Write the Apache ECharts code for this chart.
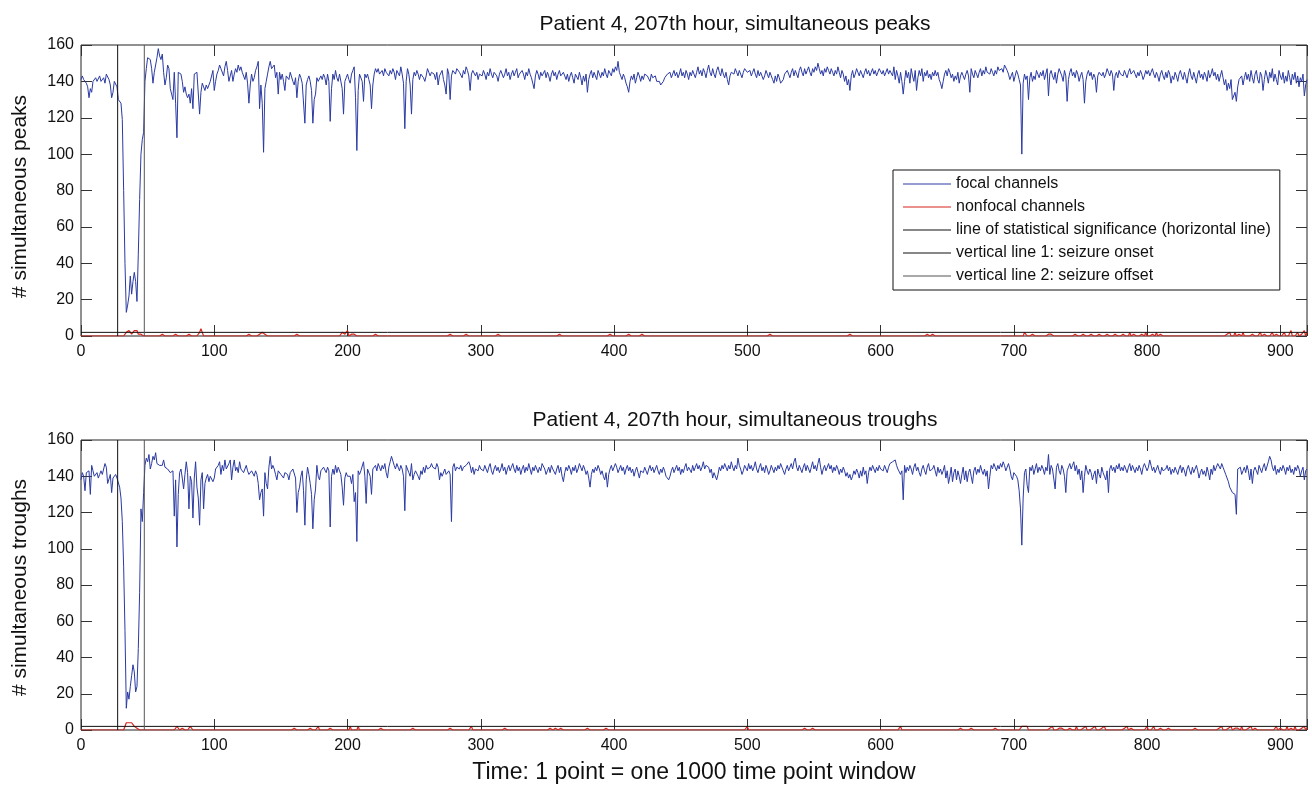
<!DOCTYPE html>
<html><head><meta charset="utf-8">
<script src="https://cdn.jsdelivr.net/npm/echarts@6.0.0/dist/echarts.min.js"></script>
<style>html,body{margin:0;padding:0;background:#fff;}#chart{width:1312px;height:785px;}</style>
</head><body><div id="chart"></div>
<script>
// ---------- data ----------
const xMax = 920;
const yTicks = [0,20,40,60,80,100,120,140,160];
const xTickLabels = [0,100,200,300,400,500,600,700,800,900];
const onsetX = 27.5;
const offsetX = 47.5;
const significance = 2;

// focal channels, simultaneous peaks, one value per window (0..920)
const focalPeaks = [
141,143,141,140,139,137,131,136,134,140,141,142,140,141,143,140,141,142,139,144,145,141,138,131,134,140,141,137,
130,129,128,119,80,40,13,17,22,33,23,30,35,30,19,45,75,100,108,112,140,
147,153,154,152,147,139,145,149,153,158,154,152,155,145,138,142,149,147,136,133,130,145,128,109,145,146,144,140,134,137,133,131,
133,128,136,125,144,144,145,144,122,134,139,137,135,138,136,138,140,141,146,135,
140,144,146,149,147,146,143,148,151,146,140,143,146,140,144,147,145,149,146,148,145,144,141,145,139,128,138,144,140,142,146,148,151,125,138,128,101,136,140,144,
148,151,147,146,149,142,145,133,145,141,144,140,135,143,144,141,145,144,140,138,142,131,140,144,142,139,140,117,138,141,143,140,135,117,130,133,142,140,140,143,
141,144,142,138,144,140,118,136,144,141,146,142,140,144,143,136,122,140,142,144,141,139,144,146,148,131,102,135,144,143,140,129,144,142,144,141,138,125,138,144,
147,145,147,144,145,146,143,147,145,145,143,146,144,147,145,141,146,145,143,148,144,139,114,140,147,144,138,122,141,145,143,146,144,141,144,145,142,140,143,147,
145,143,145,146,144,141,145,138,143,144,146,141,138,133,147,144,130,143,146,146,144,147,147,145,144,142,146,144,148,146,143,135,144,146,145,143,145,141,144,145,
143,146,144,141,145,143,147,144,142,145,146,143,140,144,146,145,142,144,147,143,
145,141,144,146,143,145,147,142,144,143,146,144,141,145,143,147,144,142,139,136,
143,146,144,141,145,143,144,146,142,145,143,140,144,146,143,145,141,144,146,143,
142,145,143,141,144,140,143,145,142,139,144,143,141,145,142,138,143,140,144,134,
141,144,146,142,145,143,141,146,144,142,145,143,147,144,142,146,145,143,147,145,
148,146,151,145,143,141,144,142,139,137,134,140,143,141,144,139,142,145,143,140,
143,141,144,145,143,142,140,144,142,141,143,140,139,140,138,138,140,142,141,144,
143,145,142,144,146,143,145,142,144,147,143,145,142,146,144,141,145,143,146,144,
142,145,148,144,146,143,147,145,142,146,149,145,143,147,144,142,146,148,145,143,
147,144,142,145,141,138,143,145,146,144,147,145,143,146,144,142,145,147,148,145,
144,146,143,145,147,144,142,146,143,145,144,141,143,146,144,142,145,143,141,139,
143,140,144,142,139,138,141,144,143,146,144,142,145,147,143,146,144,142,146,148,
145,143,147,144,146,148,145,143,147,145,148,146,150,147,144,146,143,147,145,148,
146,144,147,145,143,146,144,148,145,142,146,144,140,143,138,141,135,143,146,142,
144,147,145,143,146,144,142,145,147,144,146,143,145,147,144,146,143,145,147,146,
144,146,143,145,147,144,146,145,143,148,141,146,143,139,145,140,133,140,146,142,
145,139,147,143,140,146,135,142,146,143,147,140,145,143,146,142,144,141,145,143,
146,143,145,141,139,136,140,144,146,143,147,145,142,144,140,143,141,145,139,143,
145,143,141,144,146,143,134,147,144,142,146,144,142,145,147,143,146,144,148,145,
146,144,147,145,143,146,144,148,146,145,147,145,149,150,146,144,141,143,145,140,
143,146,144,141,138,100,139,144,141,143,130,142,145,140,143,141,146,144,142,145,
143,146,141,144,147,132,144,146,143,141,145,139,144,147,148,143,140,146,143,129,
141,145,147,143,145,142,146,144,140,143,145,141,128,140,144,146,143,145,141,144,
142,134,143,145,146,143,145,142,144,147,145,143,146,144,135,143,145,142,146,144,
145,143,146,144,142,145,147,144,143,146,144,142,145,143,146,144,141,143,146,144,
146,143,145,147,144,142,145,143,140,144,146,143,141,145,142,146,144,139,143,141,
145,143,140,144,146,143,141,145,142,139,144,147,143,141,145,142,139,144,146,142,
144,141,145,143,140,146,142,144,147,143,145,141,144,140,143,146,142,138,141,135,
139,136,141,130,129,134,129,137,141,140,143,138,142,145,141,144,140,146,142,139,
144,146,141,139,145,143,135,141,146,143,139,145,142,147,140,144,141,138,146,143,
141,145,139,143,140,146,142,138,144,141,145,139,143,137,142,140,144,132,138,141
];

// focal channels, simultaneous troughs
const focalTroughs = [
138,142,140,132,142,141,143,130,146,143,140,141,142,139,141,143,141,144,147,145,136,137,141,131,139,140,141,139,
138,134,128,115,90,55,12,21,17,24,30,36,32,21,24,45,76,122,115,131,146,
150,148,152,144,147,151,149,153,147,148,146,147,146,149,145,146,144,143,142,141,143,118,138,101,130,142,144,139,133,141,148,142,
122,140,137,117,139,148,134,128,113,138,142,122,136,139,141,137,140,140,137,139,
144,143,146,148,141,146,143,149,144,143,147,149,138,145,149,143,145,142,148,144,145,142,144,146,143,141,140,143,142,140,143,141,136,127,131,133,118,142,136,133,
145,151,144,146,144,141,138,143,143,141,140,139,142,143,141,138,142,142,144,143,139,120,131,134,140,143,132,113,138,145,141,136,130,111,127,133,146,140,138,143,
144,145,146,142,145,143,112,140,144,141,146,142,145,144,141,134,124,139,142,140,141,140,136,141,126,131,104,143,141,143,142,148,140,125,144,145,140,130,144,145,
146,143,147,145,143,146,144,147,142,139,145,148,151,152,146,144,147,145,143,146,144,140,121,146,144,142,140,147,138,141,143,142,140,138,143,141,145,142,146,144,
143,145,147,145,146,144,147,145,138,142,140,141,144,141,140,143,141,115,145,147,143,145,146,144,146,143,145,144,146,147,148,146,142,145,141,144,145,143,146,144,
145,143,146,144,142,145,147,143,141,144,146,143,145,142,144,147,143,145,141,144,
146,143,145,147,144,142,146,143,145,141,144,146,142,145,143,147,144,141,145,143,
146,144,142,145,143,147,148,144,141,143,145,142,146,144,143,141,144,146,142,145,
140,137,142,145,143,146,144,141,145,143,146,142,144,147,145,143,146,144,141,143,
139,134,141,144,142,145,143,146,144,141,143,140,138,142,134,141,144,146,143,145,
147,145,142,144,146,143,145,141,144,146,143,145,142,144,140,143,145,142,139,143,
144,142,145,143,141,144,146,143,145,142,144,146,143,141,144,142,145,143,140,141,
138,140,143,145,142,144,146,143,145,141,144,142,145,147,143,145,144,142,146,143,
145,147,144,146,143,145,148,144,146,147,145,142,144,139,142,143,138,141,145,143,
146,144,147,145,143,146,144,148,145,143,146,144,150,146,144,141,143,146,145,143,
147,144,146,143,145,148,144,142,145,147,143,145,142,146,144,141,143,146,144,142,
145,143,146,144,147,145,143,141,144,146,143,145,147,144,148,150,145,143,146,144,
142,145,147,143,146,144,142,145,148,144,146,143,147,150,145,141,144,146,143,145,
147,144,146,142,145,143,146,144,141,144,142,145,143,140,142,139,141,138,140,143,
141,144,142,139,143,140,145,141,143,136,142,145,143,146,144,142,145,143,146,144,
145,143,146,144,142,145,147,146,148,147,149,146,144,145,141,143,127,146,142,145,
143,146,144,141,145,147,143,145,142,140,144,146,143,141,145,147,143,142,144,146,
143,140,145,142,144,141,143,146,139,143,136,140,145,137,142,144,138,143,140,136,
141,145,138,143,137,142,144,140,136,143,145,141,144,142,146,143,141,144,140,143,
133,140,146,144,147,145,143,146,144,147,145,148,146,143,145,147,144,140,138,142,
143,140,138,132,122,102,128,142,144,135,131,145,143,146,141,144,147,142,145,143,
146,144,141,145,143,152,141,146,144,143,133,145,147,143,141,146,144,140,131,143,
145,147,144,146,148,143,146,141,144,138,143,131,140,146,143,141,144,142,138,141,
143,136,144,141,139,145,142,140,138,143,131,144,146,143,145,142,146,144,147,143,
145,143,146,144,142,145,147,143,146,144,142,145,143,146,144,141,145,147,148,143,
145,149,146,143,145,142,144,146,143,141,145,143,142,144,146,143,145,141,144,142,
145,143,141,144,146,142,145,143,140,144,146,143,141,145,142,144,146,143,139,142,
144,141,143,140,145,142,138,144,141,146,143,145,147,146,144,147,145,143,141,140,
137,134,135,131,131,130,119,144,143,145,141,143,145,142,146,143,138,144,136,143,
145,143,141,146,144,142,145,147,143,144,148,151,149,145,143,146,141,144,142,145,
143,146,144,141,145,143,146,142,144,141,145,143,146,144,140,143,145,138,143,144
];

// nonfocal channels: [window, value] where the value is above 0 (0 elsewhere)
const nonfocalPeaksNonzero = [
[34,2],[35,3],[36,3],[37,2],[38,1],[39,1],[40,3],[41,4],[42,3],[43,1],[44,2],[45,1],
[61,1],[71,1],[81,1],[89,2],[90,4],[91,2],[126,1],[134,1],[135,2],[136,2],[137,2],[138,1],[139,1],[147,1],
[162,1],[177,1],[187,1],[196,2],[197,3],[198,1],[199,2],[200,3],[203,1],[205,1],[221,1],[277,1],[284,1],[289,1],
[313,1],[314,1],[316,1],[344,1],[359,1],[368,1],[397,1],[411,1],[421,1],[432,1],[440,1],[442,1],[517,1],[534,1],
[577,1],[582,1],[588,1],[622,1],[632,1],[635,1],[639,1],[676,1],[678,1],[708,2],[709,1],[714,1],[726,1],[728,1],
[731,1],[735,1],[737,1],[746,1],[749,1],[752,1],[755,1],[758,1],[761,1],[764,1],[767,1],[770,1],[773,1],[776,1],
[779,1],[782,1],[785,1],[787,2],[790,1],[793,1],[796,1],[799,2],[801,1],[804,1],[807,2],[810,1],[813,1],[833,1],
[837,1],[841,1],[845,1],[849,1],[853,1],[860,1],[862,2],[864,1],[866,2],[869,1],[872,2],[876,1],[879,1],[882,1],
[885,2],[888,1],[891,1],[894,2],[897,1],[900,1],[903,2],[905,1],[908,3],[910,1],[913,2],[916,1],[918,3],[920,2]
];
const nonfocalTroughsNonzero = [
[34,4],[35,5],[36,4],[37,3],[38,4],[39,3],[40,2],[41,2],[42,1],[43,1],[61,1],[71,1],[72,2],[73,1],[75,1],[76,1],
[77,2],[79,1],[81,1],[82,2],[83,1],[137,1],[160,1],[165,1],[169,1],[172,1],[175,1],[178,2],[180,1],[187,1],[200,1],
[202,2],[204,1],[206,1],[208,2],[210,1],[212,1],[214,1],[225,1],[249,1],[277,1],[293,2],[318,1],[343,1],[352,1],
[356,1],[360,1],[380,1],[394,1],[395,2],[409,1],[435,1],[500,2],[516,1],[543,1],[549,1],[615,2],[627,1],[651,1],
[660,1],[668,1],[686,1],[706,2],[707,3],[708,2],[709,1],[710,2],[727,1],[729,2],[731,1],[734,1],[736,1],[742,1],
[745,1],[747,2],[749,1],[752,1],[754,2],[756,1],[759,1],[761,2],[763,1],[766,1],[768,2],[770,1],[780,1],[783,1],
[785,2],[788,1],[791,1],[797,1],[800,2],[802,1],[805,2],[807,1],[810,1],[816,1],[836,1],[851,1],[854,1],[856,2],
[858,1],[861,1],[863,2],[866,1],[868,1],[871,2],[873,1],[876,1],[878,2],[881,1],[884,1],[886,1],[894,1],[897,2],
[900,1],[903,1],[905,2],[908,1],[911,2],[913,1],[916,1],[918,2],[920,1]
];

const titles = ['Patient 4, 207th hour, simultaneous peaks', 'Patient 4, 207th hour, simultaneous troughs'];
const yNames = ['# simultaneous peaks', '# simultaneous troughs'];
const xName = 'Time: 1 point = one 1000 time point window';
const legendNames = ['focal channels','nonfocal channels','line of statistical significance (horizontal line)','vertical line 1: seizure onset','vertical line 2: seizure offset'];

// ---------- chart ----------
const FONT = '"Liberation Sans", Arial, Helvetica, sans-serif';
const BLUE = '#2a3aa3', RED = '#d8241c', BLACK = '#111', GRAY = '#555';

function full(sparse, n) {
  const a = new Array(n).fill(0);
  sparse.forEach(p => { a[p[0]] = p[1]; });
  return a;
}
const nonfocalPeaks = full(nonfocalPeaksNonzero, focalPeaks.length);
const nonfocalTroughs = full(nonfocalTroughsNonzero, focalTroughs.length);
const pairs = arr => arr.map((v, i) => [i, v]);

const grids = [
  {left: 81, top: 45, width: 1226, height: 291, show: true, borderColor: '#222', borderWidth: 1, backgroundColor: 'transparent'},
  {left: 81, top: 440, width: 1226, height: 290, show: true, borderColor: '#222', borderWidth: 1, backgroundColor: 'transparent'}
];

const tickStyle = {inside: true, length: 11, lineStyle: {color: '#333', width: 1}};
function xAxisFor(g, pos, labels, name) {
  return {
    type: 'value', gridIndex: g, position: pos, min: 0, max: xMax, interval: 100,
    axisLine: {show: false, onZero: false}, splitLine: {show: false}, axisTick: tickStyle,
    axisLabel: {show: labels, color: '#111', fontSize: 16, fontFamily: FONT, margin: 8,
      formatter: v => (xTickLabels.indexOf(v) >= 0 ? String(v) : '')},
    name: name || '', nameLocation: 'middle', nameGap: 31,
    nameTextStyle: {color: '#111', fontSize: 23, fontFamily: FONT}
  };
}
function yAxisFor(g, pos, labels, name, shift) {
  return {
    type: 'value', gridIndex: g, position: pos, min: yTicks[0], max: yTicks[yTicks.length - 1], interval: 20,
    axisLine: {show: false, onZero: false}, splitLine: {show: false}, axisTick: tickStyle,
    axisLabel: {show: labels, color: '#111', fontSize: 16, fontFamily: FONT, margin: 7},
    name: name || '', nameLocation: 'middle', nameGap: 50, nameRotate: 90,
    nameTextStyle: {color: '#111', fontSize: 21, fontFamily: FONT, padding: [0, shift || 0, 0, 0]}
  };
}

const xAxes = [xAxisFor(0, 'bottom', true), xAxisFor(1, 'bottom', true, xName), xAxisFor(0, 'top', false), xAxisFor(1, 'top', false)];
const yAxes = [yAxisFor(0, 'left', true, yNames[0], 12), yAxisFor(1, 'left', true, yNames[1], 5), yAxisFor(0, 'right', false), yAxisFor(1, 'right', false)];

function seriesFor(g, focal, nonfocal) {
  const base = {type: 'line', xAxisIndex: g, yAxisIndex: g, symbol: 'none', silent: true, animation: false};
  return [
    Object.assign({}, base, {name: legendNames[0], color: BLUE, data: pairs(focal), lineStyle: {color: BLUE, width: 1}, z: 2}),
    Object.assign({}, base, {name: legendNames[1], color: RED, data: pairs(nonfocal), lineStyle: {color: RED, width: 1.2}, z: 3}),
    Object.assign({}, base, {name: legendNames[2], color: BLACK, data: [[0, significance], [xMax, significance]], lineStyle: {color: BLACK, width: 1}, z: 4}),
    Object.assign({}, base, {name: legendNames[3], color: BLACK, data: [[onsetX, yTicks[0]], [onsetX, yTicks[yTicks.length - 1]]], lineStyle: {color: BLACK, width: 1}, z: 4}),
    Object.assign({}, base, {name: legendNames[4], color: GRAY, data: [[offsetX, yTicks[0]], [offsetX, yTicks[yTicks.length - 1]]], lineStyle: {color: GRAY, width: 1}, z: 4})
  ];
}

const chart = echarts.init(document.getElementById('chart'), null, {renderer: 'canvas'});
chart.setOption({
  animation: false,
  backgroundColor: '#fff',
  title: [
    {text: titles[0], left: 730, top: 9, textAlign: 'center', textStyle: {color: '#111', fontSize: 21, fontWeight: 'normal', fontFamily: FONT}},
    {text: titles[1], left: 730, top: 405, textAlign: 'center', textStyle: {color: '#111', fontSize: 21, fontWeight: 'normal', fontFamily: FONT}}
  ],
  legend: {
    orient: 'vertical', left: 893, top: 170, padding: [6, 9, 6, 10], itemGap: 7,
    itemWidth: 48, itemHeight: 1, borderColor: '#111', borderWidth: 1, backgroundColor: '#fff',
    selectedMode: false,
    textStyle: {color: '#111', fontSize: 16, lineHeight: 16, fontFamily: FONT},
    data: legendNames.map(n => ({name: n, icon: 'rect'}))
  },
  grid: grids,
  xAxis: xAxes,
  yAxis: yAxes,
  series: seriesFor(0, focalPeaks, nonfocalPeaks).concat(seriesFor(1, focalTroughs, nonfocalTroughs))
});
</script></body></html>
